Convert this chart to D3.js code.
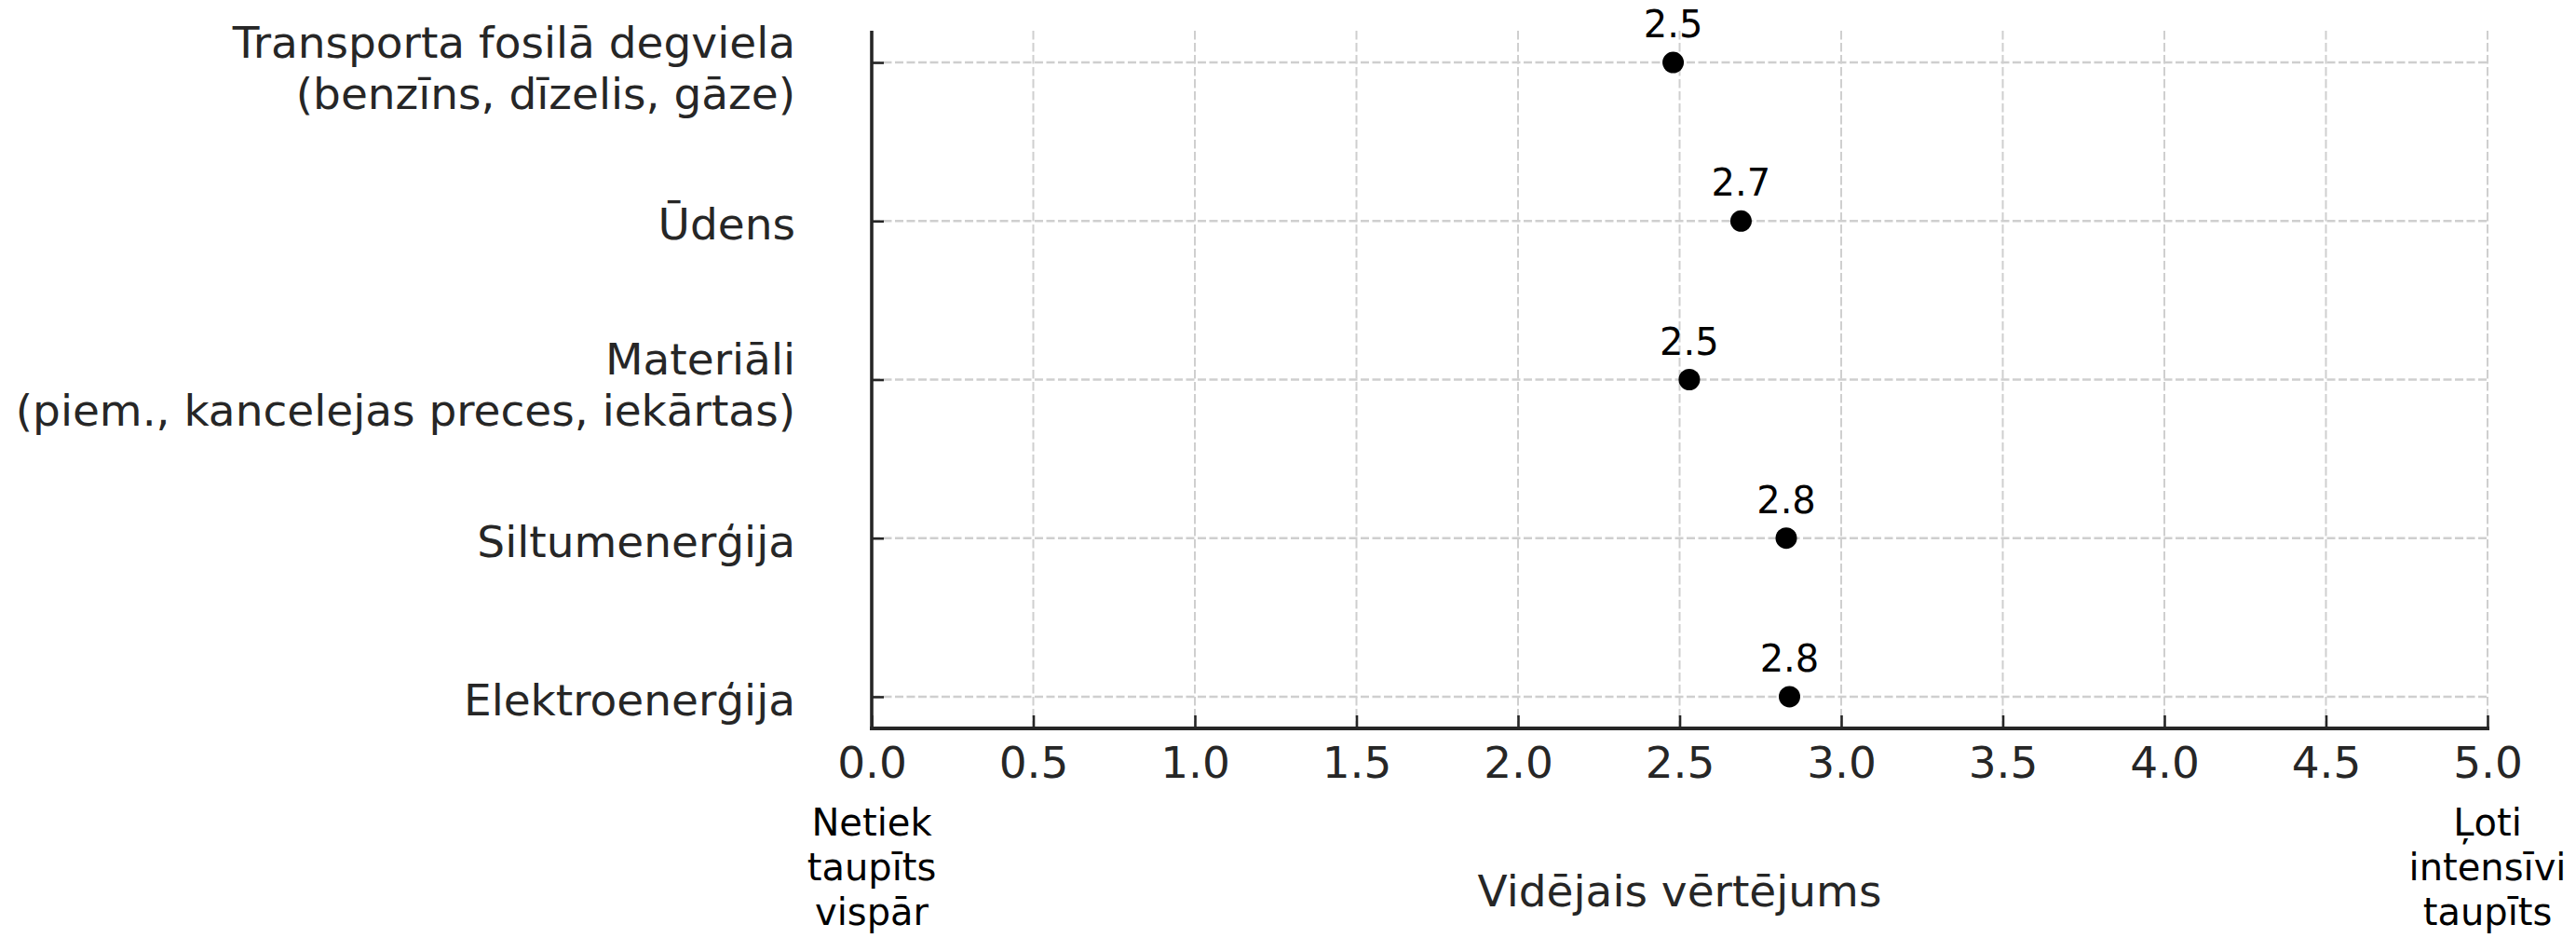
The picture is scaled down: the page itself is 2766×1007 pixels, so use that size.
<!DOCTYPE html>
<html>
<head>
<meta charset="utf-8">
<script src="https://cdn.jsdelivr.net/npm/d3@7"></script>
<style>
  html, body { margin: 0; padding: 0; background: #ffffff; }
  svg { display: block; font-family: "DejaVu Sans", sans-serif; }
</style>
</head>
<body>
<svg id="chart" width="2766" height="1007"></svg>
<script>
// Resource categories, listed top to bottom
const categories = [
  "Transporta fosilā degviela\n(benzīns, dīzelis, gāze)",
  "Ūdens",
  "Materiāli\n(piem., kancelejas preces, iekārtas)",
  "Siltumenerģija",
  "Elektroenerģija"
];
// Average saving rating per category (scale 0–5)
const averages = [2.48, 2.69, 2.53, 2.83, 2.84];
// Value axis ticks and end-point descriptions
const xTicks = [0, 0.5, 1, 1.5, 2, 2.5, 3, 3.5, 4, 4.5, 5];
const lowEndLabel = ["Netiek", "taupīts", "vispār"];
const highEndLabel = ["Ļoti", "intensīvi", "taupīts"];
const xTitle = "Vidējais vērtējums";

const svg = d3.select("#chart");
const plotLeft = 936, plotRight = 2671, plotTop = 33, plotBottom = 782;
const bigFont = 47, smallFont = 40;
const ink = "#262626";

const x = d3.scaleLinear().domain([0, 5]).range([plotLeft, plotRight]);
// bottom category sits at index 0
const n = categories.length;
const y = d3.scaleLinear().domain([-0.2, n - 1 + 0.2]).range([plotBottom, plotTop]);
const rowY = i => y(n - 1 - i);

// grid
const grid = svg.append("g");
grid.selectAll("line.v").data(xTicks.slice(1)).join("line")
  .attr("class", "v")
  .attr("x1", d => x(d)).attr("x2", d => x(d))
  .attr("y1", plotTop).attr("y2", plotBottom)
  .attr("stroke", "#cfcfcf").attr("stroke-width", 2)
  .attr("stroke-dasharray", "9.5,3.5");
grid.selectAll("line.h").data(categories).join("line")
  .attr("class", "h")
  .attr("x1", plotLeft).attr("x2", plotRight)
  .attr("y1", (d, i) => rowY(i)).attr("y2", (d, i) => rowY(i))
  .attr("stroke", "#cfcfcf").attr("stroke-width", 2.6)
  .attr("stroke-dasharray", "9,3.5");

// x axis with inward ticks
const xAxis = svg.append("g")
  .attr("transform", `translate(0,${plotBottom})`)
  .call(d3.axisBottom(x).tickValues(xTicks).tickFormat(d3.format(".1f"))
    .tickSizeInner(-14).tickSizeOuter(0));
xAxis.select(".domain").attr("stroke", ink).attr("stroke-width", 4.2)
  .attr("d", `M${plotLeft - 2},0H${plotRight + 2}`);
xAxis.selectAll(".tick line").attr("stroke", ink).attr("stroke-width", 2.6);
xAxis.selectAll(".tick text")
  .attr("y", 53).attr("dy", null)
  .attr("fill", ink).attr("font-size", bigFont)
  .attr("font-family", "DejaVu Sans");

// y axis with inward ticks and multi-line labels
const yAxis = svg.append("g")
  .attr("transform", `translate(${plotLeft},0)`)
  .call(d3.axisLeft(d3.scaleOrdinal().domain(categories).range(categories.map((c, i) => rowY(i))))
    .tickSizeInner(-13).tickSizeOuter(0));
yAxis.select(".domain").attr("stroke", ink).attr("stroke-width", 3.6)
  .attr("d", `M0,${plotTop}V${plotBottom + 2}`);
yAxis.selectAll(".tick line").attr("stroke", ink).attr("stroke-width", 2.6);
yAxis.selectAll(".tick text").each(function (d) {
  const lines = d.split("\n");
  const t = d3.select(this).text(null)
    .attr("x", -82).attr("dy", null).attr("y", 0)
    .attr("text-anchor", "end").attr("fill", ink)
    .attr("font-size", bigFont).attr("font-family", "DejaVu Sans");
  lines.forEach((ln, k) => {
    t.append("tspan").attr("x", -82)
      .attr("y", 19.5 - (lines.length - 1) * 25.5 + k * 55)
      .text(ln);
  });
});

// points with value labels
const pts = svg.append("g");
pts.selectAll("circle").data(averages).join("circle")
  .attr("cx", d => x(d)).attr("cy", (d, i) => rowY(i))
  .attr("r", 11.5).attr("fill", "#000");
pts.selectAll("text").data(averages).join("text")
  .attr("x", d => x(d)).attr("y", (d, i) => rowY(i) - 27)
  .attr("text-anchor", "middle").attr("font-size", smallFont)
  .attr("fill", "#000").text(d => d3.format(".1f")(d));

// end-point descriptions under the axis
function endLabel(lines, xv) {
  const t = svg.append("text").attr("text-anchor", "middle")
    .attr("font-size", smallFont).attr("fill", "#000");
  lines.forEach((ln, k) => {
    t.append("tspan").attr("x", x(xv)).attr("y", 897 + k * 48).text(ln);
  });
}
endLabel(lowEndLabel, 0);
endLabel(highEndLabel, 5);

// axis title
svg.append("text").attr("x", (plotLeft + plotRight) / 2).attr("y", 973)
  .attr("text-anchor", "middle").attr("font-size", bigFont)
  .attr("fill", ink).text(xTitle);
</script>
</body>
</html>
